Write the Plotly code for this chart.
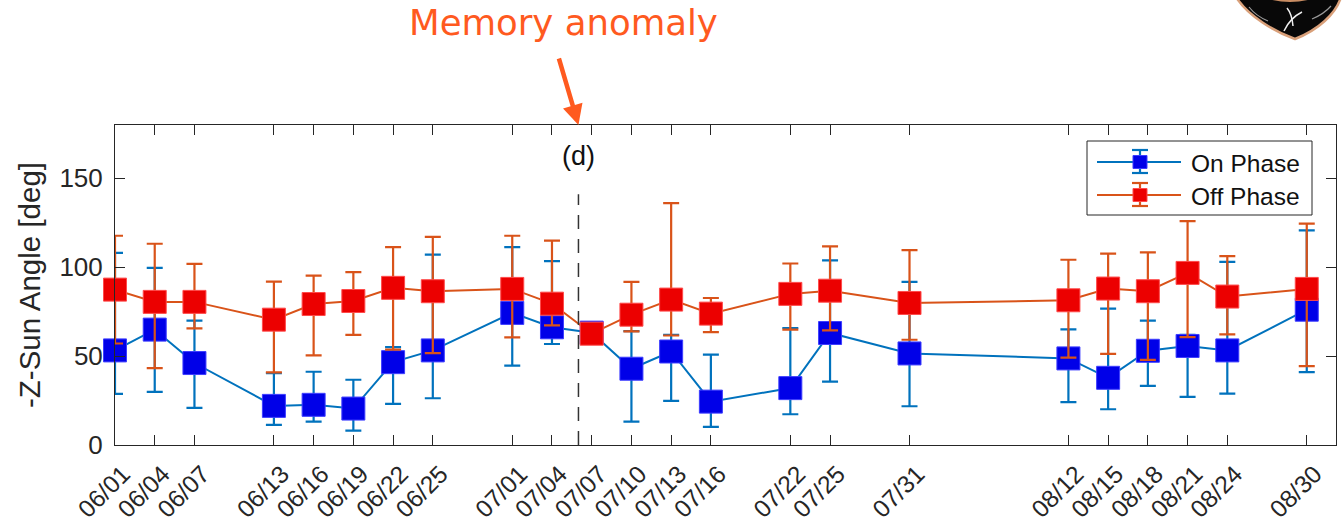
import plotly.graph_objects as go

# ---- data ----
dates = ["2021-06-01", "2021-06-04", "2021-06-07", "2021-06-13", "2021-06-16", "2021-06-19",
         "2021-06-22", "2021-06-25", "2021-07-01", "2021-07-04", "2021-07-07", "2021-07-10",
         "2021-07-13", "2021-07-16", "2021-07-22", "2021-07-25", "2021-07-31", "2021-08-12",
         "2021-08-15", "2021-08-18", "2021-08-21", "2021-08-24", "2021-08-30"]
tick_labels = ["06/01", "06/04", "06/07", "06/13", "06/16", "06/19", "06/22", "06/25",
               "07/01", "07/04", "07/07", "07/10", "07/13", "07/16", "07/22", "07/25",
               "07/31", "08/12", "08/15", "08/18", "08/21", "08/24", "08/30"]

on_mean = [53.2, 64.9, 46.1, 22.0, 22.6, 20.5, 46.6, 53.2, 74.3, 66.2, 63.2, 42.9,
           52.6, 24.4, 32.0, 63.0, 51.5, 48.7, 37.8, 53.0, 55.7, 53.2, 76.1]
on_high = [108.1, 99.6, 70.0, 40.4, 41.2, 36.7, 55.0, 107.1, 111.3, 103.4, 65.0, 64.0,
           62.0, 50.8, 65.8, 103.9, 91.8, 65.0, 76.7, 70.0, 62.0, 103.0, 120.7]
on_low = [28.8, 29.9, 20.9, 11.3, 13.2, 8.1, 23.1, 26.3, 44.6, 56.8, 61.5, 13.2,
          24.8, 10.2, 17.3, 35.7, 21.8, 24.1, 20.1, 33.3, 27.1, 28.9, 41.0]

off_mean = [87.4, 80.5, 80.5, 70.5, 79.3, 81.0, 88.4, 86.5, 87.8, 79.5, 62.6, 73.3,
            81.8, 73.9, 85.0, 86.8, 79.9, 81.4, 88.0, 86.5, 96.8, 83.5, 87.8]
off_high = [117.7, 113.2, 101.9, 91.9, 95.3, 97.2, 111.3, 117.1, 117.7, 115.0, 63.5, 91.8,
            136.1, 82.7, 102.1, 111.7, 109.6, 104.2, 107.7, 108.3, 125.9, 106.2, 124.5]
off_low = [57.1, 43.2, 65.6, 40.8, 50.4, 62.0, 53.6, 51.7, 60.5, 67.3, 60.5, 63.9,
           61.6, 63.5, 64.9, 64.5, 59.2, 49.1, 51.3, 47.9, 60.7, 62.2, 44.4]

series_names = ["On Phase", "Off Phase"]
anomaly_date = "2021-07-06"

# ---- styles ----
ON_LINE, ON_MARK, ON_EDGE = "#0072BD", "#0000E8", "#3D3DFF"
OFF_LINE, OFF_MARK, OFF_EDGE = "#D95319", "#EC0000", "#FF4A4A"
AXIS = "#262626"
FONT = "Liberation Sans, Arial"

# ---- geometry helpers (pixel -> paper) ----
W, H = 1342, 529
L, R, T, B = 115, 6, 125, 84
PW, PH = W - L - R, H - T - B


def px(x):
    return (x - L) / PW


def py(y):
    return (H - B - y) / PH


fig = go.Figure()

for name, mean, hi, lo, lc, mc, ec in [
    (series_names[0], on_mean, on_high, on_low, ON_LINE, ON_MARK, ON_EDGE),
    (series_names[1], off_mean, off_high, off_low, OFF_LINE, OFF_MARK, OFF_EDGE),
]:
    fig.add_trace(go.Scatter(
        x=dates, y=mean, name=name, mode="lines+markers", showlegend=False,
        cliponaxis=False,
        line=dict(color=lc, width=2),
        marker=dict(symbol="square", size=23, color=mc, line=dict(color=ec, width=1)),
        error_y=dict(type="data", symmetric=False,
                     array=[h - m for h, m in zip(hi, mean)],
                     arrayminus=[m - l for m, l in zip(mean, lo)],
                     color=lc, thickness=2.2, width=8),
    ))

fig.update_xaxes(
    type="date", range=["2021-06-01", "2021-09-01 05:00"],
    tickvals=dates, ticktext=tick_labels, tickangle=-45,
    tickfont=dict(family=FONT, size=24.5, color=AXIS),
    ticks="inside", ticklen=10, tickcolor=AXIS, tickwidth=1,
    ticklabelstandoff=4, ticklabelshift=8,
    showline=True, linecolor=AXIS, linewidth=1, mirror="ticks",
    showgrid=False, zeroline=False,
)
fig.update_yaxes(
    range=[0, 180], tickvals=[0, 50, 100, 150],
    tickfont=dict(family=FONT, size=26, color=AXIS),
    ticks="inside", ticklen=10, tickcolor=AXIS, tickwidth=1,
    showline=True, linecolor=AXIS, linewidth=1, mirror="ticks",
    showgrid=False, zeroline=False, ticklabelstandoff=6,
    title=dict(text="-Z-Sun Angle [deg]", standoff=10,
               font=dict(family=FONT, size=29.5, color=AXIS)),
)

shapes = [
    dict(type="line", xref="x", yref="y", x0=anomaly_date, x1=anomaly_date, y0=0, y1=141,
         line=dict(color="#333333", width=1.5, dash="14px,10px")),
]

# ---- legend (drawn manually to match the MATLAB look) ----
shapes.append(dict(type="rect", xref="paper", yref="paper",
                   x0=px(1087), x1=px(1312), y0=py(141), y1=py(215),
                   fillcolor="white", line=dict(color=AXIS, width=1), layer="above"))
annotations = []
for row_y, (lc, mc, ec), name in [
    (162, (ON_LINE, ON_MARK, ON_EDGE), series_names[0]),
    (195, (OFF_LINE, OFF_MARK, OFF_EDGE), series_names[1]),
]:
    cx = 1140
    shapes += [
        dict(type="line", xref="paper", yref="paper", x0=px(1097), x1=px(1181),
             y0=py(row_y), y1=py(row_y), line=dict(color=lc, width=2), layer="above"),
        dict(type="line", xref="paper", yref="paper", x0=px(cx), x1=px(cx),
             y0=py(row_y - 12), y1=py(row_y + 11), line=dict(color=lc, width=2.2), layer="above"),
        dict(type="line", xref="paper", yref="paper", x0=px(cx - 8), x1=px(cx + 8),
             y0=py(row_y - 12), y1=py(row_y - 12), line=dict(color=lc, width=2.2), layer="above"),
        dict(type="line", xref="paper", yref="paper", x0=px(cx - 8), x1=px(cx + 8),
             y0=py(row_y + 11), y1=py(row_y + 11), line=dict(color=lc, width=2.2), layer="above"),
        dict(type="rect", xref="paper", yref="paper", x0=px(cx - 7), x1=px(cx + 7),
             y0=py(row_y - 6.5), y1=py(row_y + 6.5), fillcolor=mc,
             line=dict(color=ec, width=1), layer="above"),
    ]
    annotations.append(dict(text=name, xref="paper", yref="paper", x=px(1189), y=py(row_y + 1),
                            xanchor="left", yanchor="middle", showarrow=False,
                            font=dict(family=FONT, size=24.5, color="#111111")))

# ---- logo (cropped) at top right ----
shapes += [
    dict(type="path", xref="paper", yref="paper",
         path=f"M{px(1236)},{py(-3)} L{px(1341)},{py(-3)} "
              f"C{px(1336)},{py(14)} {px(1318)},{py(30)} {px(1295)},{py(39)} "
              f"C{px(1275)},{py(32)} {px(1248)},{py(16)} {px(1236)},{py(-3)} Z",
         fillcolor="#080808", line=dict(color="#D9A07A", width=2.5)),
    dict(type="path", xref="paper", yref="paper",
         path=f"M{px(1262)},{py(-3)} Q{px(1290)},{py(7)} {px(1318)},{py(-3)} Z",
         fillcolor="#C88C62", line=dict(width=0)),
    dict(type="path", xref="paper", yref="paper",
         path=f"M{px(1249)},{py(7)} Q{px(1256)},{py(16)} {px(1268)},{py(21)}",
         line=dict(color="#9a9a9a", width=1.2)),
    dict(type="path", xref="paper", yref="paper",
         path=f"M{px(1331)},{py(6)} Q{px(1324)},{py(14)} {px(1312)},{py(19)}",
         line=dict(color="#9a9a9a", width=1.2)),
    dict(type="path", xref="paper", yref="paper",
         path=f"M{px(1284)},{py(31)} Q{px(1290)},{py(18)} {px(1302)},{py(12)}",
         line=dict(color="#eeeeee", width=1.5)),
    dict(type="path", xref="paper", yref="paper",
         path=f"M{px(1287)},{py(8)} Q{px(1292)},{py(14)} {px(1293)},{py(26)}",
         line=dict(color="#eeeeee", width=1.5)),
]

annotations += [
    dict(text="(d)", xref="x", yref="paper", x=anomaly_date, y=py(156), showarrow=False,
         font=dict(family=FONT, size=27, color="#111111"),
         xanchor="center", yanchor="middle"),
    dict(text="", xref="x", yref="paper", x=anomaly_date, y=1.0,
         showarrow=True, arrowhead=2, arrowsize=0.9, arrowwidth=4.5, arrowcolor="#FF5A1F",
         ax=-20, ay=-68, axref="pixel", ayref="pixel"),
    dict(text="Memory anomaly", xref="paper", yref="paper", x=px(563), y=py(22),
         showarrow=False, xanchor="center", yanchor="middle",
         font=dict(family="DejaVu Sans", size=35.5, color="#FF5A1F")),
]

fig.update_layout(
    width=W, height=H,
    margin=dict(l=L, r=R, t=T, b=B, autoexpand=False),
    paper_bgcolor="white", plot_bgcolor="white",
    shapes=shapes, annotations=annotations,
    showlegend=False,
)

fig.write_html("out.html")
